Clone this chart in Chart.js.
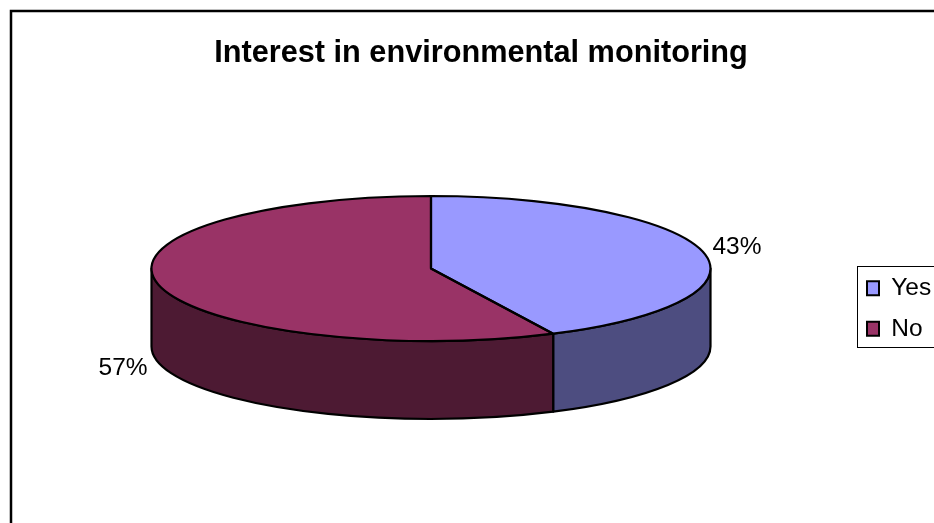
<!DOCTYPE html>
<html>
<head>
<meta charset="utf-8">
<title>Interest in environmental monitoring</title>
<script src="https://cdn.jsdelivr.net/npm/chart.js@4"></script>
<style>
  html, body { margin: 0; padding: 0; background: #fff; overflow: hidden; width: 934px; height: 523px; }
  canvas { position: absolute; left: 0; top: 0; }
</style>
</head>
<body>
<canvas id="myChart" width="962" height="523" style="width:962px;height:523px"></canvas>
<script>
const titleText = 'Interest in environmental monitoring';
const categories = ['Yes', 'No'];
const values = [42.8, 57.2];
const topColors = ['#9999FF', '#993366'];
const sideColors = ['#4D4D80', '#4D1A33'];

// pie look, the doughnut controller only knows circles so it is squashed at draw time
const RX = 279.5, RY = 72.5, DEPTH = 78;
const CX = 431, CY = 268.5;
const FONT = 'Arial, "Liberation Sans", sans-serif';

const pie3d = {
  id: 'pie3d',
  afterLayout(chart) {
    const area = chart.chartArea;
    area.left = CX - RX;
    area.right = CX + RX;
    area.top = CY - RX;
    area.bottom = CY + RX;
    area.width = RX * 2;
    area.height = RX * 2;

    const lg = chart.legend;
    lg.left = 851;
    lg.right = 960;
    lg.top = 260;
    lg.bottom = 500;
  },
  beforeDraw(chart) {
    const ctx = chart.ctx;
    ctx.save();
    // outer frame
    ctx.strokeStyle = '#000';
    ctx.lineWidth = 2.5;
    ctx.strokeRect(11, 11, 1000, 600);
    // legend frame
    ctx.lineWidth = 1;
    ctx.strokeRect(857.5, 266.5, 120, 81);
    ctx.restore();
  },
  beforeDatasetsDraw(chart) {
    const ctx = chart.ctx;
    const arcs = chart.getDatasetMeta(0).data;

    ctx.save();
    ctx.strokeStyle = '#000';
    ctx.lineWidth = 2.2;
    ctx.lineJoin = 'round';
    arcs.forEach((arc, i) => {
      // only the part of the slice on the front half has a visible wall
      let a0 = Math.max(arc.startAngle, 0);
      let a1 = Math.min(arc.endAngle, Math.PI);
      if (a1 <= a0) return;
      ctx.beginPath();
      ctx.ellipse(arc.x, arc.y, RX, RY, 0, a0, a1);
      ctx.ellipse(arc.x, arc.y + DEPTH, RX, RY, 0, a1, a0, true);
      ctx.closePath();
      ctx.fillStyle = sideColors[i];
      ctx.fill();
      ctx.stroke();
    });
    ctx.restore();

    ctx.save();
    ctx.translate(CX, CY);
    ctx.scale(1, RY / RX);
    ctx.translate(-CX, -CY);
  },
  afterDatasetsDraw(chart) {
    const ctx = chart.ctx;
    const arcs = chart.getDatasetMeta(0).data;
    ctx.restore();

    ctx.save();
    ctx.strokeStyle = '#000';
    ctx.lineWidth = 2.2;
    ctx.lineJoin = 'round';
    arcs.forEach((arc) => {
      ctx.beginPath();
      ctx.moveTo(arc.x, arc.y);
      ctx.ellipse(arc.x, arc.y, RX, RY, 0, arc.startAngle, arc.endAngle);
      ctx.closePath();
      ctx.stroke();
    });

    // percent labels next to the middle of each slice
    const total = values.reduce((a, b) => a + b, 0);
    ctx.fillStyle = '#000';
    ctx.font = '24.5px ' + FONT;
    ctx.textBaseline = 'middle';
    arcs.forEach((arc, i) => {
      const mid = (arc.startAngle + arc.endAngle) / 2;
      const right = Math.cos(mid) > 0;
      let px = arc.x + RX * Math.cos(mid);
      let py = arc.y + RY * Math.sin(mid);
      if (Math.sin(mid) > 0) py += DEPTH;
      ctx.textAlign = right ? 'left' : 'right';
      ctx.fillText(Math.round(values[i] / total * 100) + '%', px + (right ? 9 : -11), py + (right ? -5 : 5));
    });
    ctx.restore();
  }
};

new Chart(document.getElementById('myChart'), {
  type: 'pie',
  data: {
    labels: categories,
    datasets: [{
      data: values,
      backgroundColor: topColors,
      borderWidth: 0,
      clip: false
    }]
  },
  plugins: [pie3d],
  options: {
    responsive: false,
    animation: false,
    radius: RX,
    rotation: 0,
    plugins: {
      tooltip: { enabled: false },
      title: {
        display: true,
        text: titleText,
        color: '#000',
        font: { family: FONT, size: 30.7, weight: 'bold' },
        padding: { top: 35, bottom: 10 }
      },
      legend: {
        display: true,
        position: 'right',
        align: 'start',
        labels: {
          boxWidth: 12,
          boxHeight: 14,
          padding: 16,
          color: '#000',
          font: { family: FONT, size: 24.5 },
          generateLabels(chart) {
            return Chart.overrides.pie.plugins.legend.labels.generateLabels(chart).map(l => ({ ...l, lineWidth: 2, strokeStyle: '#000' }));
          }
        }
      }
    }
  }
});
</script>
</body>
</html>
